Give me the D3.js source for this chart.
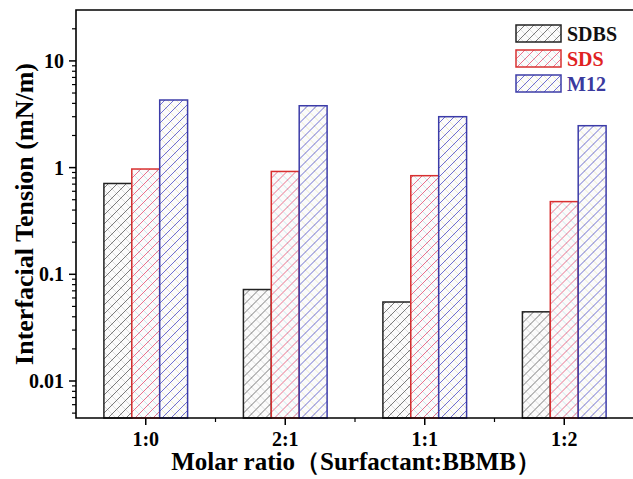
<!DOCTYPE html>
<html>
<head>
<meta charset="utf-8">
<script src="https://cdn.jsdelivr.net/npm/d3@7"></script>
<style>
  html, body { margin: 0; padding: 0; background: #fff; }
  svg { display: block; }
</style>
</head>
<body>
<svg id="chart" width="633" height="479"></svg>
<script>
// Molar ratios of surfactant to BBMB
const categories = ["1:0", "2:1", "1:1", "1:2"];
const seriesNames = ["SDBS", "SDS", "M12"];
// Interfacial tension values (mN/m)
const sdbsValues = [0.71, 0.072, 0.055, 0.0445];
const sdsValues = [0.97, 0.92, 0.84, 0.48];
const m12Values = [4.3, 3.8, 3.0, 2.47];
const yTickLabels = ["0.01", "0.1", "1", "10"];

const seriesValues = { SDBS: sdbsValues, SDS: sdsValues, M12: m12Values };
const seriesStyle = {
  SDBS: { stroke: "#222222", hatch: "#7a7a7a", cross: "#d8d8d8", text: "#111111" },
  SDS:  { stroke: "#d83030", hatch: "#e8708c", cross: "#bfe4ec", text: "#e02222" },
  M12:  { stroke: "#3c3ca8", hatch: "#6e6ed0", cross: "#ece8c0", text: "#3a3a9e" }
};

const svg = d3.select("#chart");
const plotLeft = 76, plotRight = 634, plotTop = 10, plotBottom = 418;
const font = "'Liberation Serif', 'Times New Roman', serif";

// Hatch patterns: "/" strokes in series colour over a faint "\" cross hatch
const defs = svg.append("defs");
seriesNames.forEach(name => {
  const st = seriesStyle[name];
  const p = defs.append("pattern")
    .attr("id", "hatch-" + name)
    .attr("patternUnits", "userSpaceOnUse")
    .attr("width", 9).attr("height", 9);
  p.append("rect").attr("width", 9).attr("height", 9).attr("fill", "#fbfbfb");
  p.append("path").attr("d", "M0,0 L9,9 M-1,8 L1,10 M8,-1 L10,1")
    .attr("stroke", st.cross).attr("stroke-width", 0.8);
  p.append("path").attr("d", "M0,9 L9,0 M-1,1 L1,-1 M8,10 L10,8")
    .attr("stroke", st.hatch).attr("stroke-width", 1);
});

const x0 = d3.scaleBand().domain(categories).range([plotLeft, plotRight]).padding(0);
const x1 = d3.scaleBand().domain(seriesNames)
  .range([x0.bandwidth() * 0.2, x0.bandwidth() * 0.8]).padding(0);
const y = d3.scaleLog().domain([0.0045, 30]).range([plotBottom, plotTop]);

// Bars
const rows = categories.map((c, i) => ({ cat: c, vals: seriesNames.map(s => ({ s, v: seriesValues[s][i] })) }));
const groups = svg.append("g").selectAll("g").data(rows).join("g")
  .attr("transform", d => `translate(${x0(d.cat)},0)`);
groups.selectAll("rect").data(d => d.vals).join("rect")
  .attr("x", d => x1(d.s))
  .attr("y", d => y(d.v))
  .attr("width", x1.bandwidth())
  .attr("height", d => plotBottom - y(d.v))
  .attr("fill", d => `url(#hatch-${d.s})`)
  .attr("stroke", d => seriesStyle[d.s].stroke)
  .attr("stroke-width", 1.5);

// Y axis (log, major + minor ticks)
const majors = yTickLabels.map(Number);
const minors = [];
[0.001, 0.01, 0.1, 1, 10].forEach(b => { for (let k = 2; k <= 9; k++) { const v = b * k; if (v > y.domain()[0] && v < y.domain()[1]) minors.push(v); } });
const yAxisG = svg.append("g");
yAxisG.selectAll("line.minor").data(minors).join("line")
  .attr("class", "minor")
  .attr("x1", plotLeft - 4).attr("x2", plotLeft)
  .attr("y1", d => y(d)).attr("y2", d => y(d))
  .attr("stroke", "#000").attr("stroke-width", 1.2);
yAxisG.selectAll("line.major").data(majors).join("line")
  .attr("class", "major")
  .attr("x1", plotLeft - 7).attr("x2", plotLeft)
  .attr("y1", d => y(d)).attr("y2", d => y(d))
  .attr("stroke", "#000").attr("stroke-width", 1.5);
yAxisG.selectAll("text").data(yTickLabels).join("text")
  .attr("x", plotLeft - 12).attr("y", d => y(+d)).attr("dy", "0.35em")
  .attr("text-anchor", "end")
  .attr("font-family", font).attr("font-weight", "bold").attr("font-size", 20)
  .text(d => d);

// X axis: ticks at category centres, minor ticks between groups
const xAxisG = svg.append("g");
xAxisG.selectAll("line.major").data(categories).join("line")
  .attr("class", "major")
  .attr("x1", d => x0(d) + x0.bandwidth() / 2).attr("x2", d => x0(d) + x0.bandwidth() / 2)
  .attr("y1", plotBottom).attr("y2", plotBottom + 7)
  .attr("stroke", "#000").attr("stroke-width", 1.5);
xAxisG.selectAll("line.minor").data(categories.slice(1)).join("line")
  .attr("class", "minor")
  .attr("x1", d => x0(d)).attr("x2", d => x0(d))
  .attr("y1", plotBottom).attr("y2", plotBottom + 4)
  .attr("stroke", "#000").attr("stroke-width", 1.2);
xAxisG.selectAll("text").data(categories).join("text")
  .attr("x", d => x0(d) + x0.bandwidth() / 2).attr("y", plotBottom + 28)
  .attr("text-anchor", "middle")
  .attr("font-family", font).attr("font-weight", "bold").attr("font-size", 20)
  .text(d => d);

// Frame lines: top, left, bottom
svg.append("path")
  .attr("d", `M${plotRight},${plotTop} L${plotLeft},${plotTop} L${plotLeft},${plotBottom} L${plotRight},${plotBottom}`)
  .attr("fill", "none").attr("stroke", "#000").attr("stroke-width", 1.6);

// Axis titles
svg.append("text")
  .attr("transform", `translate(24,${(plotTop + plotBottom) / 2}) rotate(-90)`)
  .attr("text-anchor", "middle").attr("dy", "0.35em")
  .attr("font-family", font).attr("font-weight", "bold").attr("font-size", 26)
  .text("Interfacial Tension (mN/m)");
svg.append("text")
  .attr("x", 356).attr("y", 470)
  .attr("text-anchor", "middle")
  .attr("font-family", font).attr("font-weight", "bold").attr("font-size", 25)
  .text("Molar ratio（Surfactant:BBMB）");

// Legend
const legend = svg.append("g").attr("transform", "translate(516,25)");
const lg = legend.selectAll("g").data(seriesNames).join("g")
  .attr("transform", (d, i) => `translate(0,${i * 25})`);
lg.append("rect").attr("width", 45).attr("height", 17)
  .attr("fill", d => `url(#hatch-${d})`)
  .attr("stroke", d => seriesStyle[d].stroke).attr("stroke-width", 1.5);
lg.append("text").attr("x", 51).attr("y", 8.5).attr("dy", "0.35em")
  .attr("font-family", font).attr("font-weight", "bold").attr("font-size", 20)
  .attr("fill", d => seriesStyle[d].text)
  .text(d => d);
</script>
</body>
</html>
